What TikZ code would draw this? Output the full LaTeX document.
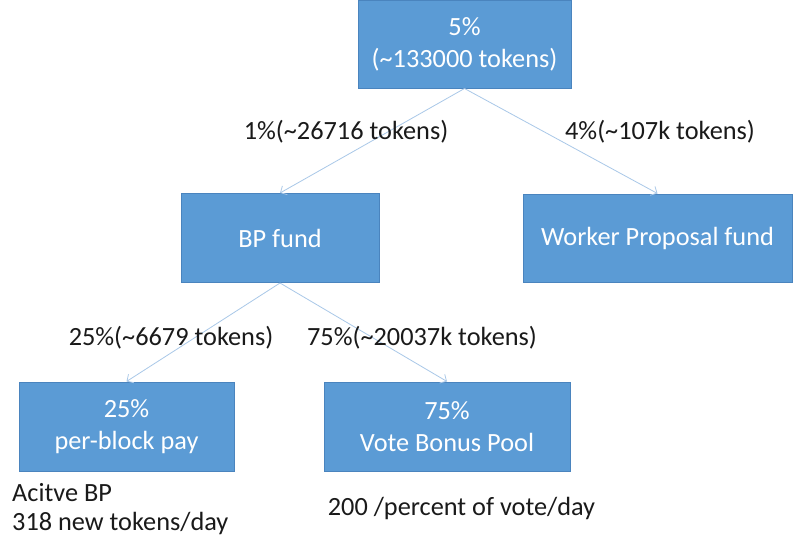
\documentclass[tikz,border=0pt]{standalone}
\usepackage{fontspec}
\setmainfont{Carlito}
\usetikzlibrary{arrows.meta}
\definecolor{boxfill}{HTML}{5B9BD5}
\definecolor{boxline}{HTML}{4A84BE}
\definecolor{arrowc}{HTML}{A9C8E8}
\definecolor{labelc}{HTML}{1A1A1A}
\tikzset{
  fundbox/.style={rectangle, fill=boxfill, draw=boxline, line width=1pt, text=white,
    font=\fontsize{26.3}{32}\selectfont, align=center, inner sep=0pt},
  flow/.style={draw=arrowc, line width=0.8pt, -{Straight Barb[length=5pt,width=10pt]}},
  lbl/.style={text=labelc, font=\fontsize{26.3}{30}\selectfont, inner sep=0pt}
}
\begin{document}
\begin{tikzpicture}[x=1pt,y=-1pt]
\useasboundingbox (0,0) rectangle (794,546);
\fill[white] (0,0) rectangle (794,546);
\node[fundbox, minimum width=213pt, minimum height=88pt] (top) at (464.5,44) {5\%\\(\textasciitilde133000 tokens)};
\node[fundbox, minimum width=198pt, minimum height=89pt] (bp) at (280,238) {BP fund};
\node[fundbox, minimum width=269pt, minimum height=88pt] (wp) at (657.5,238) {Worker Proposal fund};
\node[fundbox, minimum width=215pt, minimum height=89pt] (pb) at (126.5,426.5) {25\%\\per-block pay};
\node[fundbox, minimum width=246pt, minimum height=89pt] (vb) at (447,426.5) {75\%\\Vote Bonus Pool};
\draw[flow] (top.south) -- (bp.north);
\draw[flow] (top.south) -- (wp.north);
\draw[flow] (bp.south) -- (pb.north);
\draw[flow] (bp.south) -- (vb.north);
\node[lbl] (l1) at (346,132) {1\%(\textasciitilde26716 tokens)};
\node[lbl] (l2) at (660,132) {4\%(\textasciitilde107k tokens)};
\node[lbl] (l3) at (171,338) {25\%(\textasciitilde6679 tokens)};
\node[lbl] (l4) at (422,338) {75\%(\textasciitilde20037k tokens)};
\node[lbl, anchor=west] (n1) at (12,493) {Acitve BP};
\node[lbl, anchor=west] (n2) at (12,523) {318 new tokens/day};
\node[lbl] (n3) at (461.5,508) {200 /percent of vote/day};
\end{tikzpicture}
\end{document}
